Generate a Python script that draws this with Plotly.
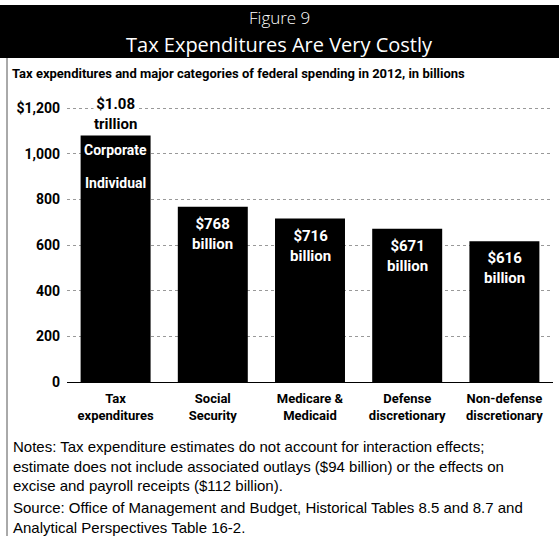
import plotly.graph_objects as go

# Federal spending categories, 2012, in billions of dollars
categories = ["Tax<br>expenditures", "Social<br>Security", "Medicare &<br>Medicaid",
              "Defense<br>discretionary", "Non-defense<br>discretionary"]
values = [1080, 768, 716, 671, 616]
value_labels = ["$1.08<br>trillion", "$768<br>billion", "$716<br>billion",
                "$671<br>billion", "$616<br>billion"]
tick_vals = [0, 200, 400, 600, 800, 1000, 1200]
tick_text = ["0", "200", "400", "600", "800", "1,000", "$1,200"]

W, H = 559, 536
L, R, T, B = 67, 6, 104, 154
PW, PH = W - L - R, H - T - B
Y_TOP = 1200 * PH / 274  # leave a little headroom so the top gridline is drawn

NARROW = "Roboto, Lato, sans-serif"
PLAIN = "Liberation Sans, Arial, sans-serif"


def narrow(size, color="black"):
    return dict(family=NARROW, size=size, color=color, weight="bold")


def px(x):
    return (x - L) / PW


def py(y):
    return (H - B - y) / PH


fig = go.Figure(go.Bar(
    x=categories, y=values,
    marker=dict(color="black", line=dict(width=0)),
    hoverinfo="x+y",
))

annotations = []
# value labels: first one sits above the bar, the rest inside in white
for i, (cat, v, lab) in enumerate(zip(categories, values, value_labels)):
    if i == 0:
        annotations.append(dict(
            x=cat, y=v, xref="x", yref="y", text=lab, showarrow=False,
            yanchor="bottom", yshift=1, bgcolor="white", borderpad=0,
            font=narrow(15),
        ))
    else:
        annotations.append(dict(
            x=cat, y=v, xref="x", yref="y", text=lab, showarrow=False,
            yanchor="top", yshift=-6, font=narrow(15, "white"),
        ))

# breakdown labels on the tax expenditures bar
annotations.append(dict(x=categories[0], y=values[0], xref="x", yref="y",
                        text="Corporate", showarrow=False, yanchor="top", yshift=-5,
                        font=narrow(14, "white")))
annotations.append(dict(x=categories[0], y=values[0], xref="x", yref="y",
                        text="Individual", showarrow=False, yanchor="top", yshift=-38,
                        font=narrow(14, "white")))

# header band text
annotations.append(dict(x=px(W / 2), y=py(18), xref="paper", yref="paper",
                        text="Figure 9", showarrow=False, yanchor="middle",
                        font=dict(family="Open Sans, sans-serif", size=17, color="white", weight=300)))
annotations.append(dict(x=px(W / 2), y=py(44), xref="paper", yref="paper",
                        text="Tax Expenditures Are Very Costly", showarrow=False, yanchor="middle",
                        font=dict(family="Open Sans, sans-serif", size=20, color="white")))

# subtitle
annotations.append(dict(x=px(10), y=py(73), xref="paper", yref="paper", xanchor="left",
                        text="Tax expenditures and major categories of federal spending in 2012, in billions",
                        showarrow=False, yanchor="middle", font=narrow(13)))

# notes and source
notes = ("Notes: Tax expenditure estimates do not account for interaction effects;<br>"
         "estimate does not include associated outlays ($94 billion) or the effects on<br>"
         "excise and payroll receipts ($112 billion).")
source = ("Source: Office of Management and Budget, Historical Tables 8.5 and 8.7 and<br>"
          "Analytical Perspectives Table 16-2.")
annotations.append(dict(x=px(12), y=py(437), xref="paper", yref="paper", xanchor="left",
                        yanchor="top", align="left", text=notes, showarrow=False, borderpad=0,
                        font=dict(family=PLAIN, size=15, color="black")))
annotations.append(dict(x=px(12), y=py(498), xref="paper", yref="paper", xanchor="left",
                        yanchor="top", align="left", text=source, showarrow=False, borderpad=0,
                        font=dict(family=PLAIN, size=15, color="black")))

shapes = [
    # black header band
    dict(type="rect", xref="paper", yref="paper", x0=px(0), x1=px(W), y0=py(58), y1=py(5),
         fillcolor="black", line=dict(width=0), layer="below"),
    # panel left border
    dict(type="line", xref="paper", yref="paper", x0=px(7), x1=px(7), y0=py(58), y1=py(536),
         line=dict(color="#555", width=1)),
]

fig.update_layout(
    width=W, height=H,
    margin=dict(l=L, r=R, t=T, b=B, autoexpand=False),
    paper_bgcolor="white", plot_bgcolor="white",
    bargap=0.28,
    showlegend=False,
    annotations=annotations,
    shapes=shapes,
    xaxis=dict(
        showgrid=False, showline=False, ticks="", tickangle=0, automargin=False,
        ticklabelstandoff=7,
        tickfont=narrow(13),
        fixedrange=True,
    ),
    yaxis=dict(
        range=[0, Y_TOP], tickvals=tick_vals, ticktext=tick_text, automargin=False,
        showgrid=True, gridcolor="#999", griddash="dot", gridwidth=1,
        zeroline=True, zerolinecolor="black", zerolinewidth=1,
        showline=False, ticks="", ticklabelstandoff=6,
        tickfont=narrow(14),
        fixedrange=True,
    ),
)

fig.write_html("out.html")
